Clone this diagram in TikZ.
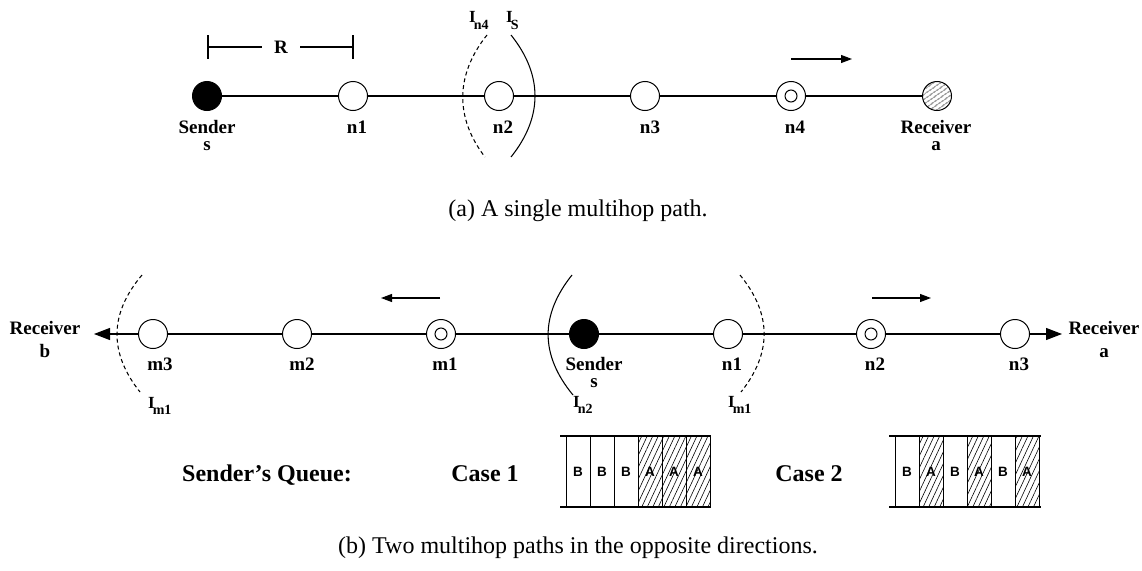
\documentclass[tikz,border=0pt]{standalone}
\usepackage{fontspec}
\setmainfont{Liberation Serif}
\newfontfamily\qsans{Liberation Sans}
\usetikzlibrary{arrows.meta,patterns.meta}
\tikzset{
  ln/.style={line width=1.05pt},
  nd/.style={circle,draw,minimum size=29pt,inner sep=0pt,fill=white,line width=1pt},
  snd/.style={nd,fill=black},
  rcv/.style={circle,draw,minimum size=29pt,inner sep=0pt,line width=1pt,
              pattern={Lines[angle=35,distance=4pt,line width=0.6pt]}},
  inr/.style={circle,draw,minimum size=12pt,inner sep=0pt,line width=1pt},
  lab/.style={font=\fontsize{19}{17}\selectfont\bfseries,inner sep=0pt,align=center},
  ilab/.style={font=\fontsize{17}{17}\selectfont\bfseries,inner sep=0pt,anchor=base west},
  qlab/.style={font=\fontsize{24}{26}\selectfont\bfseries,inner sep=0pt,anchor=base},
  captxt/.style={font=\fontsize{24}{28}\selectfont,inner sep=0pt,anchor=base},
  dsh/.style={ln,dash pattern=on 4pt off 3pt},
  sarr/.style={ln,-{Triangle[length=11pt,width=8pt]}},
  barr/.style={ln,-{Triangle[length=16pt,width=12pt]}},
  cell/.style={draw,line width=1pt,minimum width=24pt,minimum height=71pt,inner sep=0pt,
               font=\qsans\bfseries\fontsize{13.5}{14}\selectfont},
  cellA/.style={cell,pattern={Lines[angle=65,distance=5pt,line width=0.6pt]}},
}
\newcommand{\Isub}[1]{I\kern-2pt\raisebox{-6pt}{\fontsize{14}{14}\selectfont #1}}
\begin{document}
\begin{tikzpicture}[x=1pt,y=-1pt]
\useasboundingbox (0,0) rectangle (1142,570);

% ---------- (a) ----------
\node[snd] (s) at (207,96) {};
\node[nd] (n1) at (353,96) {};
\node[nd] (n2) at (499,96) {};
\node[nd] (n3) at (645,96) {};
\node[nd] (n4) at (791,96) {};
\node[inr] (n4i) at (791,96) {};
\node[rcv] (ra) at (937,96) {};
\draw[ln] (s) -- (n1) -- (n2) -- (n3) -- (n4) -- (ra);

\node[lab] (ls) at (207,135) {Sender\\s};
\node[lab,anchor=base] (ln1) at (357,133) {n1};
\node[lab,anchor=base] (ln2) at (503,133) {n2};
\node[lab,anchor=base] (ln3) at (650,133) {n3};
\node[lab,anchor=base] (ln4) at (795,133) {n4};
\node[lab] (lra) at (936,135) {Receiver\\a};

% R bar
\coordinate (rlt) at (208,35); \coordinate (rlb) at (208,59);
\coordinate (rrt) at (353,35); \coordinate (rrb) at (353,59);
\coordinate (rl) at (208,47); \coordinate (rr) at (353,47);
\node[lab,inner xsep=12pt] (R) at (281,47) {R};
\draw[ln] (rlt) -- (rlb);
\draw[ln] (rrt) -- (rrb);
\draw[ln] (rl) -- (R.west);
\draw[ln] (R.east) -- (rr);

% interference arcs
\coordinate (a1t) at (487,35); \coordinate (a1b) at (485,157);
\draw[dsh] (a1t) .. controls (455,75) and (455,118) .. (a1b);
\coordinate (a2t) at (511,35); \coordinate (a2b) at (511,157);
\draw[ln] (a2t) .. controls (543,75) and (543,117) .. (a2b);
\node[ilab] (In4) at (469,23) {\Isub{n4}};
\node[ilab] (IS) at (506,23) {\Isub{S}};

% direction arrow
\coordinate (ta1) at (791,59); \coordinate (ta2) at (852,59);
\draw[sarr] (ta1) -- (ta2);

\node[captxt] (capa) at (578,216) {(a) A single multihop path.};

% ---------- (b) ----------
\node[nd] (m3) at (153,334) {};
\node[nd] (m2) at (297,334) {};
\node[nd] (m1) at (441,334) {};
\node[inr] (m1i) at (441,334) {};
\node[snd] (S) at (584,334) {};
\node[nd] (bn1) at (728,334) {};
\node[nd] (bn2) at (871,334) {};
\node[inr] (bn2i) at (871,334) {};
\node[nd] (bn3) at (1015,334) {};
\coordinate (tipb) at (94,334);
\coordinate (tipa) at (1062,334);
\draw[ln] (m3) -- (m2) -- (m1) -- (S) -- (bn1) -- (bn2) -- (bn3);
\draw[barr] (m3) -- (tipb);
\draw[barr] (bn3) -- (tipa);

\node[lab] (lrb) at (45,339) {Receiver\\[6pt]b};
\node[lab] (lra2) at (1104,339) {Receiver\\[6pt]a};
\node[lab,anchor=base] (lm3) at (160,370) {m3};
\node[lab,anchor=base] (lm2) at (302,370) {m2};
\node[lab,anchor=base] (lm1) at (445,370) {m1};
\node[lab] (lS) at (594,372.5) {Sender\\s};
\node[lab,anchor=base] (lbn1) at (732,370) {n1};
\node[lab,anchor=base] (lbn2) at (875,370) {n2};
\node[lab,anchor=base] (lbn3) at (1019,370) {n3};

% arrows above
\coordinate (la1) at (440,298); \coordinate (la2) at (381,298);
\draw[sarr] (la1) -- (la2);
\coordinate (ra1) at (872,298); \coordinate (ra2) at (931,298);
\draw[sarr] (ra1) -- (ra2);

% arcs
\coordinate (b1t) at (142,275); \coordinate (b1b) at (140,392);
\draw[dsh] (b1t) .. controls (109,314) and (109,353) .. (b1b);
\coordinate (b2t) at (572,275); \coordinate (b2b) at (573,395);
\draw[ln] (b2t) .. controls (540,315) and (540,355) .. (b2b);
\coordinate (b3t) at (740,275); \coordinate (b3b) at (741,392);
\draw[dsh] (b3t) .. controls (772,314) and (772,353) .. (b3b);
\node[ilab] (Im1l) at (148,408) {\Isub{m1}};
\node[ilab] (In2) at (573,407) {\Isub{n2}};
\node[ilab] (Im1r) at (728,407) {\Isub{m1}};

% queue
\node[qlab] (sq) at (267,481) {Sender's Queue:};
\node[qlab] (c1) at (485,481) {Case 1};
\node[qlab] (c2) at (809,481) {Case 2};

\node[cell] (q11) at (578,471.5) {B};
\node[cell] (q12) at (602,471.5) {B};
\node[cell] (q13) at (626,471.5) {B};
\node[cellA] (q14) at (650,471.5) {A};
\node[cellA] (q15) at (674,471.5) {A};
\node[cellA] (q16) at (698,471.5) {A};
\coordinate (q1tl) at (560,436); \coordinate (q1tr) at (711,436);
\coordinate (q1bl) at (560,507); \coordinate (q1br) at (711,507);
\draw[ln] (q1tl) -- (q1tr);
\draw[ln] (q1bl) -- (q1br);

\node[cell] (q21) at (907,471.5) {B};
\node[cellA] (q22) at (931,471.5) {A};
\node[cell] (q23) at (955,471.5) {B};
\node[cellA] (q24) at (979,471.5) {A};
\node[cell] (q25) at (1003,471.5) {B};
\node[cellA] (q26) at (1027,471.5) {A};
\coordinate (q2tl) at (889,436); \coordinate (q2tr) at (1041,436);
\coordinate (q2bl) at (889,507); \coordinate (q2br) at (1041,507);
\draw[ln] (q2tl) -- (q2tr);
\draw[ln] (q2bl) -- (q2br);

\node[captxt] (capb) at (578,553) {(b) Two multihop paths in the opposite directions.};
\end{tikzpicture}
\end{document}
